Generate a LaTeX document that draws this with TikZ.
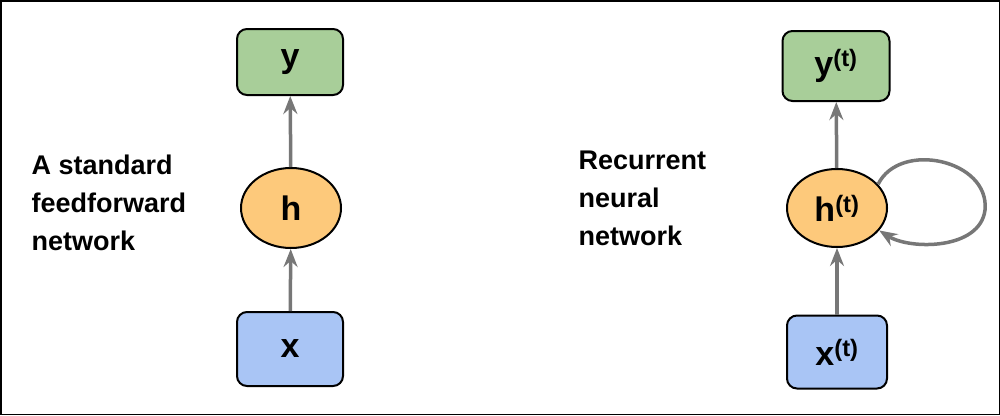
\documentclass[tikz,border=0pt]{standalone}
\usepackage{fontspec}
\setmainfont{Liberation Sans}
\usetikzlibrary{shapes.geometric,arrows.meta}
\definecolor{gfill}{HTML}{A8CE99}
\definecolor{ofill}{HTML}{FDC97B}
\definecolor{bfill}{HTML}{A9C5F5}
\definecolor{ar}{HTML}{777777}
\begin{document}
\begin{tikzpicture}[x=1pt,y=-1pt,
  box/.style={draw=black,line width=2pt,rounded corners=10pt,inner sep=0pt,font=\fontsize{34}{36}\selectfont\bfseries},
  ell/.style={draw=black,line width=2pt,ellipse,inner sep=0pt,font=\fontsize{34}{36}\selectfont\bfseries,fill=ofill},
  arr/.style={draw=ar,line width=3.5pt,-{Stealth[length=18pt,width=14pt,inset=6pt]}},
  lbl/.style={anchor=west,align=left,font=\fontsize{27}{38}\selectfont\bfseries}]
\draw[black,line width=1.5pt] (0.75,0.75) rectangle (999.25,414.25);
\node[box,fill=gfill,minimum width=106pt,minimum height=66pt] (y1) at (290,62) {y};
\node[ell,minimum width=100pt,minimum height=80pt] (h1) at (291,208) {h};
\node[box,fill=bfill,minimum width=106pt,minimum height=74pt] (x1) at (290,349) {x};
\draw[arr] (x1) -- (h1);
\draw[arr] (h1) -- (y1);
\node[lbl] (t1) at (28,203) {A standard\\feedforward\\network};
\node[box,fill=gfill,minimum width=107pt,minimum height=70pt] (y2) at (836,66) {y\textsuperscript{(t)}};
\node[ell,minimum width=100pt,minimum height=78pt] (h2) at (837,208) {h\textsuperscript{(t)}};
\node[box,fill=bfill,minimum width=100pt,minimum height=73pt] (x2) at (837,352) {x\textsuperscript{(t)}};
\draw[arr] (x2) -- (h2);
\draw[arr] (h2) -- (y2);
\draw[arr] (h2.30) .. controls (900,140) and (990,160) .. (985,210) .. controls (980,250) and (910,250) .. (h2.-28);
\node[lbl] (t2) at (575,198) {Recurrent\\neural\\network};
\end{tikzpicture}
\end{document}
